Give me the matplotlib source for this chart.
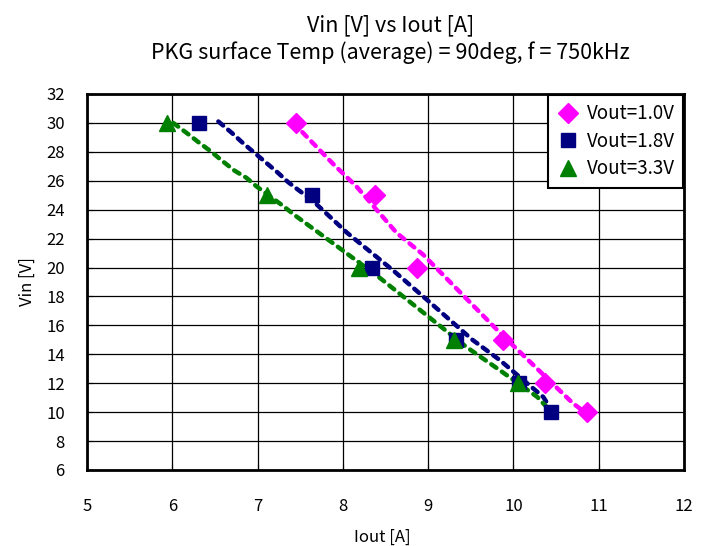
import matplotlib.pyplot as plt

plt.rcParams['font.family'] = ['Noto Sans CJK JP', 'DejaVu Sans']

vin = [30, 25, 20, 15, 12, 10]
iout_10 = [7.45, 8.38, 8.87, 9.88, 10.37, 10.86]
iout_18 = [6.31, 7.64, 8.34, 9.33, 10.06, 10.44]
vin_33 = [30, 25, 20, 15, 12]
iout_33 = [5.94, 7.11, 8.19, 9.30, 10.05]

# dashed fit curves
fit_10_x = [7.42, 7.88, 8.16, 8.63, 8.94, 9.84, 10.70, 10.86]
fit_10_y = [30.0, 27.2, 25.6, 22.4, 20.9, 15.5, 10.6, 9.9]
fit_18_x = [6.54, 6.70, 6.83, 6.97, 7.09, 7.23, 7.36, 7.47, 7.65, 8.05, 8.59, 8.98, 9.52, 9.84, 10.35, 10.42]
fit_18_y = [30.1, 29.3, 28.6, 27.9, 27.3, 26.6, 25.9, 25.4, 24.6, 22.4, 19.8, 17.8, 15.0, 13.6, 11.05, 10.4]
fit_33_x = [6.01, 6.17, 6.30, 6.46, 6.58, 6.73, 6.87, 6.99, 7.29, 7.44, 7.88, 8.43, 8.94, 9.45, 9.84, 10.28, 10.43]
fit_33_y = [30.0, 29.3, 28.7, 28.0, 27.4, 26.7, 26.2, 25.6, 24.3, 23.6, 21.7, 19.3, 16.9, 14.5, 12.9, 11.05, 10.1]

fig = plt.figure(figsize=(7.04, 5.46), dpi=100)
ax = fig.add_axes([87/704, 1-470/546, (684-87)/704, (470-94)/546])

dash = dict(linestyle=(0, (1.4, 1.5)), linewidth=3.2, dash_capstyle='round')
ax.plot(fit_10_x, fit_10_y, color='#FF00FF', **dash)
ax.plot(fit_18_x, fit_18_y, color='#000080', **dash)
ax.plot(fit_33_x, fit_33_y, color='#008000', **dash)

ax.plot(iout_10, vin, 'D', color='#FF00FF', ms=10, ls='none', label='Vout=1.0V')
ax.plot(iout_18, vin, 's', color='#000080', ms=10, ls='none', label='Vout=1.8V')
ax.plot(iout_33, vin_33, '^', color='#008000', ms=11, ls='none', label='Vout=3.3V')

ax.set_xlim(5, 12)
ax.set_ylim(6, 32)
ax.set_xticks(range(5, 13))
ax.set_yticks(range(6, 33, 2))
ax.grid(True, color='black', linewidth=0.9)
ax.set_axisbelow(True)
for s in ax.spines.values():
    s.set_linewidth(2)
ax.tick_params(labelsize=12, length=4, direction='in')
ax.tick_params(axis='x', pad=20)
ax.tick_params(axis='y', pad=16)

fig.text(382/704, 1-537/546, 'Iout [A]', fontsize=12, ha='center', va='center')
fig.text(27/704, 1-282/546, 'Vin [V]', fontsize=12, ha='center', va='center', rotation=90)
fig.text(391/704, 1-25/546, 'Vin [V] vs Iout [A]', fontsize=15.5, ha='center', va='center')
fig.text(390/704, 1-53/546, 'PKG surface Temp (average) = 90deg, f = 750kHz',
         fontsize=15.5, ha='center', va='center')

leg = ax.legend(loc='upper right', fontsize=13.5, fancybox=False, framealpha=1,
                edgecolor='black', borderaxespad=0.05, handletextpad=0.4,
                labelspacing=0.35, handlelength=1.2, borderpad=0.45)
leg.get_frame().set_linewidth(1.5)

plt.savefig('out.png', dpi=100)
